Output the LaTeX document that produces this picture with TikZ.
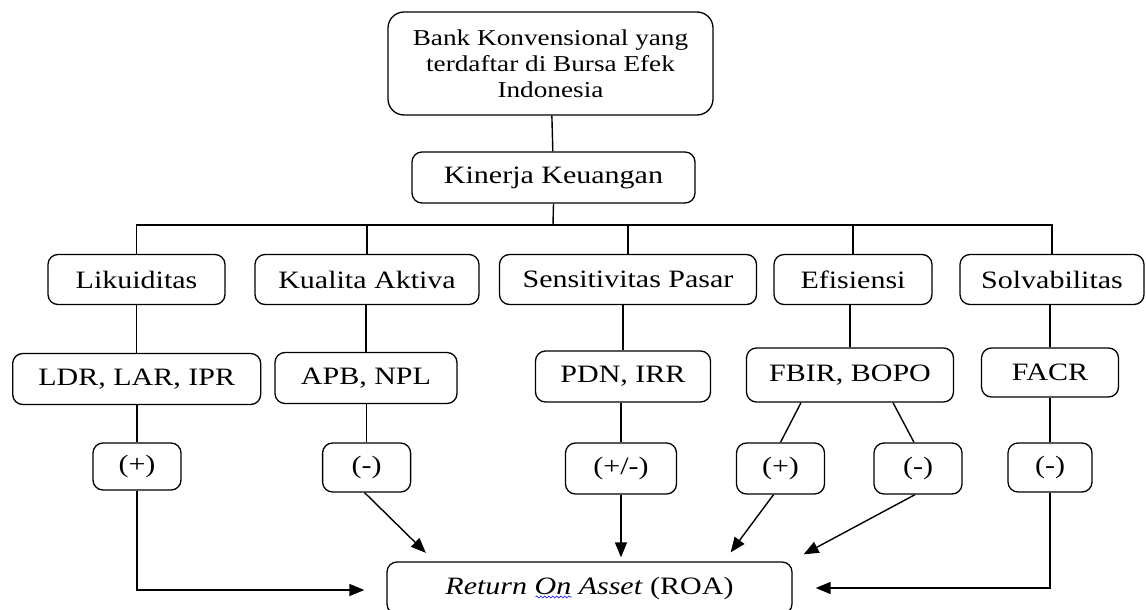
\documentclass[tikz,border=0pt]{standalone}
\usepackage{fontspec}
\setmainfont{Liberation Serif}[FakeStretch=1.2]
\usetikzlibrary{arrows.meta,calc,decorations.pathmorphing}

\tikzset{
  kotak/.style={draw, rounded corners=10pt, line width=1.3pt, inner sep=0pt,
    font=\fontsize{25}{30}\selectfont},
  garis/.style={line width=1.4pt},
  panah/.style={garis, -{Triangle[length=15pt,width=12pt]}}
}

\begin{document}
\begin{tikzpicture}[x=1pt,y=-1pt]
    \useasboundingbox (0,0) rectangle (1146,610);

    \node[kotak, rounded corners=16pt, minimum width=325pt, minimum height=103pt,
      align=center, font=\fontsize{22.7}{26}\selectfont] (bank) at (550.5,63.5)
      {Bank Konvensional yang\\terdaftar di Bursa Efek\\Indonesia};
    \node[kotak, minimum width=283pt, minimum height=51pt] (kin) at (553.5,177.5) {Kinerja Keuangan};
    \coordinate (bus) at (553,225);

    % rasio
    \node[kotak, minimum width=177pt, minimum height=50pt] (lik) at (136.5,279.5) {Likuiditas};
    \node[kotak, minimum width=224pt, minimum height=50pt] (kua) at (367,279.5) {Kualita Aktiva};
    \node[kotak, minimum width=257pt, minimum height=50pt] (sen) at (628,279.5) {Sensitivitas Pasar};
    \node[kotak, minimum width=158pt, minimum height=50pt] (efi) at (853,279.5) {Efisiensi};
    \node[kotak, minimum width=184pt, minimum height=50pt] (sol) at (1052,279.5) {Solvabilitas};

    \node[kotak, minimum width=248pt, minimum height=51pt] (ldr) at (136.7,379) {LDR, LAR, IPR};
    \node[kotak, minimum width=182pt, minimum height=51pt] (apb) at (366,378) {APB, NPL};
    \node[kotak, minimum width=175pt, minimum height=51pt] (pdn) at (623,376.5) {PDN, IRR};
    \node[kotak, minimum width=207pt, minimum height=54pt] (fbir) at (850,375) {FBIR, BOPO};
    \node[kotak, minimum width=137pt, minimum height=49pt] (facr) at (1050,372.5) {FACR};

    % arah pengaruh
    \node[kotak, minimum width=88pt, minimum height=47pt] (p1) at (137,466.5) {(+)};
    \node[kotak, minimum width=88pt, minimum height=49pt] (m1) at (366.6,467.5) {(-)};
    \node[kotak, minimum width=111pt, minimum height=51pt] (pm) at (621,468.5) {(+/-)};
    \node[kotak, minimum width=88pt, minimum height=51pt] (p2) at (780.5,468.5) {(+)};
    \node[kotak, minimum width=88pt, minimum height=51pt] (m2) at (918,468.5) {(-)};
    \node[kotak, minimum width=84pt, minimum height=49pt] (m3) at (1050,467.5) {(-)};

    \node[kotak, minimum width=405pt, minimum height=52pt] (roa) at (589.5,588)
      {\textit{Return On Asset} (ROA)};
    % garis ejaan di bawah "On"
    \draw[blue, line width=0.6pt, decorate,
      decoration={snake, amplitude=0.9pt, segment length=4pt}]
      ($(roa.center)+(-54,9)$) -- ($(roa.center)+(-18,9)$);

    \draw[garis] (bank) -- (kin);
    \draw[garis] (kin.south) -- (bus);
    \draw[garis] (lik.north) -- (lik.north |- bus) -- (sol.north |- bus) -- (sol.north);
    \foreach \n in {kua,sen,efi}
        \draw[garis] (\n.north) -- (\n.north |- bus);

    \draw[garis] (ldr.north) -- (ldr.north |- lik.south);
    \draw[garis] (apb.north) -- (apb.north |- kua.south);
    \draw[garis] (pdn.north) -- (pdn.north |- sen.south);
    \draw[garis] (fbir.north) -- (fbir.north |- efi.south);
    \draw[garis] (facr.north) -- (facr.north |- sol.south);

    \draw[garis] (p1.north) -- (p1.north |- ldr.south);
    \draw[garis] (m1.north) -- (m1.north |- apb.south);
    \draw[garis] (pm.north) -- (pm.north |- pdn.south);
    \draw[garis] ($(fbir.south)+(-49,0)$) -- (p2.north);
    \draw[garis] ($(fbir.south)+(43,0)$) -- ($(m2.north)+(-4,0)$);
    \draw[garis] (m3.north) -- (m3.north |- facr.south);

    \draw[panah] (p1.south) |- ($(roa.west)+(-22,2)$);
    \draw[panah] ($(m1.south)+(-2,0)$) -- ($(roa.north west)+(39.5,-8.5)$);
    \draw[panah, shorten >=4pt] (pm.south) -- (pm.south |- roa.north);
    \draw[panah] ($(p2.south)+(-7,0)$) -- ($(roa.north east)+(-62,-9)$);
    \draw[panah] ($(m2.south)+(-3,0)$) -- ($(roa.north east)+(11,-7)$);
    \draw[panah] (m3.south) |- ($(roa.east)+(23,0)$);
\end{tikzpicture}
\end{document}
